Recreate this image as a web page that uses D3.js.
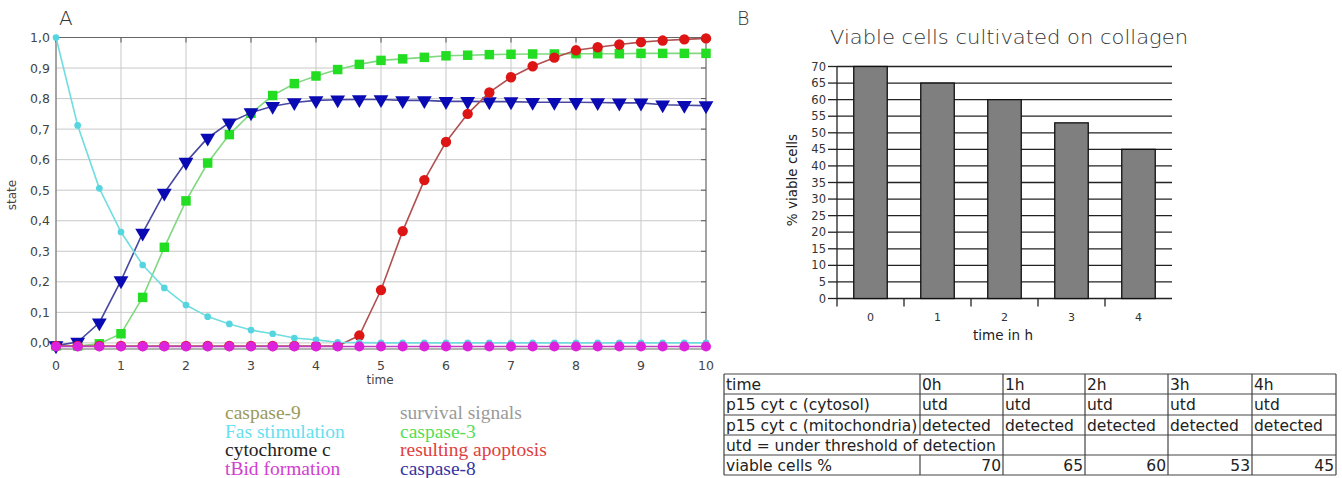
<!DOCTYPE html>
<html><head><meta charset="utf-8">
<script src="https://cdn.jsdelivr.net/npm/d3@7"></script>
<style>body{margin:0;background:#fff;} svg{display:block;}</style>
</head><body>
<svg id="c" width="1342" height="478"></svg>
<script>
// ---------- Panel A data ----------
const time = [0,1/3,2/3,1,4/3,5/3,2,7/3,8/3,3,10/3,11/3,4,13/3,14/3,5,16/3,17/3,6,19/3,20/3,7,22/3,23/3,8,25/3,26/3,9,28/3,29/3,10];
const fasStimulation = [1.0,0.712,0.506,0.363,0.255,0.18,0.124,0.086,0.062,0.042,0.03,0.016,0.01,0.002,0.001,0,0,0,0,0,0,0,0,0,0,0,0,0,0,0,0];
const caspase8 = [-0.009,0.003,0.066,0.204,0.36,0.491,0.592,0.671,0.721,0.754,0.775,0.787,0.794,0.796,0.797,0.797,0.794,0.794,0.791,0.791,0.79,0.79,0.788,0.788,0.788,0.787,0.786,0.786,0.78,0.778,0.777];
const caspase3 = [-0.01,-0.01,-0.003,0.03,0.149,0.313,0.465,0.589,0.682,0.752,0.81,0.849,0.874,0.895,0.912,0.925,0.93,0.935,0.94,0.942,0.944,0.945,0.946,0.946,0.947,0.947,0.947,0.948,0.948,0.948,0.948];
const apoptosis = [-0.01,-0.01,-0.01,-0.01,-0.01,-0.01,-0.01,-0.01,-0.01,-0.01,-0.01,-0.01,-0.01,-0.01,0.024,0.173,0.366,0.533,0.658,0.75,0.82,0.87,0.906,0.934,0.958,0.968,0.977,0.985,0.99,0.994,0.997];
const tBid = [-0.012,-0.012,-0.012,-0.012,-0.012,-0.012,-0.012,-0.012,-0.012,-0.012,-0.012,-0.012,-0.012,-0.012,-0.012,-0.012,-0.012,-0.012,-0.012,-0.012,-0.012,-0.012,-0.012,-0.012,-0.012,-0.012,-0.012,-0.012,-0.012,-0.012,-0.012];
const xTicks = [0,1,2,3,4,5,6,7,8,9,10];
const yTicks = [0,0.1,0.2,0.3,0.4,0.5,0.6,0.7,0.8,0.9,1.0];
const legendCol1 = ["caspase-9","Fas stimulation","cytochrome c","tBid formation"];
const legendCol2 = ["survival signals","caspase-3","resulting apoptosis","caspase-8"];

// ---------- Panel B data ----------
const hours = ["0","1","2","3","4"];
const viable = [70,65,60,53,45];
const barTicks = [0,5,10,15,20,25,30,35,40,45,50,55,60,65,70];
const tableHeader = ["time","0h","1h","2h","3h","4h"];
const tableCytosol = ["p15 cyt c (cytosol)","utd","utd","utd","utd","utd"];
const tableMito = ["p15 cyt c (mitochondria)","detected","detected","detected","detected","detected"];
const tableNote = "utd = under threshold of detection";
const tableViableLabel = "viable cells %";

const svg = d3.select("#c");

// ================= Panel A =================
const x = d3.scaleLinear().domain([0,10]).range([56,706]);
const y = d3.scaleLinear().domain([-0.02,1.0]).range([349,37.5]);
const A = svg.append("g");

A.append("text").attr("x",59).attr("y",25).attr("font-family","DejaVu Sans").attr("font-weight","300")
 .attr("font-size",20).attr("fill","#333").text("A");

// grid
A.selectAll(".gx").data(xTicks).join("line").attr("x1",d=>x(d)).attr("x2",d=>x(d))
 .attr("y1",y.range()[1]).attr("y2",y.range()[0]).attr("stroke","#c8c8c8").attr("stroke-width",1);
A.selectAll(".gy").data(yTicks).join("line").attr("x1",x.range()[0]).attr("x2",x.range()[1])
 .attr("y1",d=>y(d)).attr("y2",d=>y(d)).attr("stroke","#c8c8c8").attr("stroke-width",1);
// frame
A.append("rect").attr("x",x.range()[0]).attr("y",y.range()[1]).attr("width",x.range()[1]-x.range()[0])
 .attr("height",y.range()[0]-y.range()[1]).attr("fill","none").attr("stroke","#666").attr("stroke-width",1);
// inner ticks top & right
A.selectAll(".tt").data(xTicks).join("line").attr("x1",d=>x(d)).attr("x2",d=>x(d))
 .attr("y1",y.range()[1]).attr("y2",y.range()[1]+5).attr("stroke","#555");
A.selectAll(".tr").data(yTicks).join("line").attr("x1",x.range()[1]-5).attr("x2",x.range()[1])
 .attr("y1",d=>y(d)).attr("y2",d=>y(d)).attr("stroke","#555");

// tick labels
A.selectAll(".ylab").data(yTicks).join("text").attr("x",50).attr("y",d=>y(d)+4.5)
 .attr("text-anchor","end").attr("font-family","DejaVu Sans").attr("font-size",12.5).attr("fill","#444")
 .text(d=>d3.format(".1f")(d).replace(".",","));
A.selectAll(".xlab").data(xTicks).join("text").attr("x",d=>x(d)).attr("y",370)
 .attr("text-anchor","middle").attr("font-family","DejaVu Sans").attr("font-size",12.5).attr("fill","#444")
 .text(d=>d);
A.append("text").attr("x",380).attr("y",384).attr("text-anchor","middle").attr("font-family","DejaVu Sans")
 .attr("font-size",12).attr("fill","#444").text("time");
A.append("text").attr("transform","translate(16,195) rotate(-90)").attr("text-anchor","middle")
 .attr("font-family","DejaVu Sans").attr("font-size",12).attr("fill","#444").text("state");

const line = d3.line().x((d,i)=>x(time[i])).y(d=>y(d));
function series(vals, lineColor, markColor, shape, size){
  const g = A.append("g");
  g.append("path").datum(vals).attr("d",line).attr("fill","none").attr("stroke",lineColor).attr("stroke-width",1.6);
  const sym = d3.symbol().type(shape).size(size);
  g.selectAll("path.m").data(vals).join("path").attr("class","m")
   .attr("transform",(d,i)=>`translate(${x(time[i])},${y(d)})${shape===d3.symbolTriangle?" rotate(180)":""}`)
   .attr("d",sym).attr("fill",markColor);
}
series(caspase3, "#80d880", "#22dd22", d3.symbolSquare, 90);
series(caspase8, "#4848a0", "#0a0ab4", d3.symbolTriangle, 95);
series(apoptosis, "#b05050", "#dd1515", d3.symbolCircle, 85);
series(fasStimulation, "#70dde0", "#55d5e0", d3.symbolCircle, 35);
series(tBid, "#c040c0", "#dd22dd", d3.symbolCircle, 80);

// legend
const col1Colors = ["#9a9a5a","#66e0f0","#222222","#d040d0"];
const col2Colors = ["#9a9a9a","#55dd55","#e04040","#3535a5"];
A.selectAll(".lg1").data(legendCol1).join("text").attr("x",225).attr("y",(d,i)=>419+i*18.5)
 .attr("font-family","Liberation Serif").attr("font-size",19.5).attr("fill",(d,i)=>col1Colors[i]).text(d=>d);
A.selectAll(".lg2").data(legendCol2).join("text").attr("x",400).attr("y",(d,i)=>419+i*18.5)
 .attr("font-family","Liberation Serif").attr("font-size",19.5).attr("fill",(d,i)=>col2Colors[i]).text(d=>d);

// ================= Panel B =================
const B = svg.append("g");
B.append("text").attr("x",737).attr("y",25).attr("font-family","DejaVu Sans").attr("font-weight","300")
 .attr("font-size",19).attr("fill","#333").text("B");
B.append("text").attr("x",1009).attr("y",44).attr("text-anchor","middle").attr("font-family","DejaVu Sans")
 .attr("font-weight","300").attr("font-size",20).attr("fill","#333").attr("textLength",358).attr("lengthAdjust","spacingAndGlyphs")
 .text("Viable cells cultivated on collagen");

const bx = d3.scaleBand().domain(hours).range([837,1172]).paddingInner(0.5).paddingOuter(0.25);
const by = d3.scaleLinear().domain([0,70]).range([298.5,66.5]);
// gridlines
B.selectAll(".bg").data(barTicks).join("line").attr("x1",837).attr("x2",1172)
 .attr("y1",d=>by(d)).attr("y2",d=>by(d)).attr("stroke","#222").attr("stroke-width",1.3);
// y axis
B.append("line").attr("x1",837).attr("x2",837).attr("y1",by(0)).attr("y2",by(70)).attr("stroke","#222").attr("stroke-width",1.3);
B.selectAll(".byt").data(barTicks).join("line").attr("x1",828).attr("x2",837)
 .attr("y1",d=>by(d)).attr("y2",d=>by(d)).attr("stroke","#222").attr("stroke-width",1.3);
B.selectAll(".byl").data(barTicks).join("text").attr("x",826).attr("y",d=>by(d)+4)
 .attr("text-anchor","end").attr("font-family","DejaVu Sans").attr("font-size",11.5).attr("fill","#333").text(d=>d);
// bars
B.selectAll(".bar").data(viable).join("rect").attr("x",(d,i)=>bx(hours[i])).attr("y",d=>by(d))
 .attr("width",bx.bandwidth()).attr("height",d=>by(0)-by(d)).attr("fill","#7f7f7f").attr("stroke","#111").attr("stroke-width",1.3);
// x ticks at category boundaries
B.selectAll(".bxt").data(hours).join("line").attr("x1",d=>bx(d)-bx.step()*bx.paddingOuter()).attr("x2",d=>bx(d)-bx.step()*bx.paddingOuter())
 .attr("y1",by(0)).attr("y2",by(0)+8).attr("stroke","#222").attr("stroke-width",1.3);
B.selectAll(".bxl").data(hours).join("text").attr("x",d=>bx(d)+bx.bandwidth()/2).attr("y",321)
 .attr("text-anchor","middle").attr("font-family","DejaVu Sans").attr("font-size",11).attr("fill","#333").text(d=>d);
B.append("text").attr("x",1003).attr("y",340).attr("text-anchor","middle").attr("font-family","DejaVu Sans")
 .attr("font-size",13.5).attr("fill","#222").text("time in h");
B.append("text").attr("transform","translate(797,180) rotate(-90)").attr("text-anchor","middle")
 .attr("font-family","DejaVu Sans").attr("font-size",13.5).attr("fill","#222").text("% viable cells");

// ---------- table ----------
const colX = [724,920,1003,1085,1168,1252,1336];
const rowY = [374,394,415,435,455,475];
const T = svg.append("g").attr("font-family","DejaVu Sans").attr("font-size",15.5).attr("fill","#222");
// horizontal lines
T.selectAll(".hl").data(rowY).join("line").attr("x1",colX[0]).attr("x2",colX[6])
 .attr("y1",d=>d).attr("y2",d=>d).attr("stroke","#444").attr("stroke-width",1.2);
// vertical lines
const vsegs = [];
colX.forEach((cx,ci)=>{
  rowY.slice(0,-1).forEach((ry,ri)=>{
    if(ri===3 && ci===1) return; // merged note cell
    vsegs.push([cx,ry,rowY[ri+1]]);
  });
});
T.selectAll(".vl").data(vsegs).join("line").attr("x1",d=>d[0]).attr("x2",d=>d[0])
 .attr("y1",d=>d[1]).attr("y2",d=>d[2]).attr("stroke","#444").attr("stroke-width",1.2);
[tableHeader,tableCytosol,tableMito].forEach((row,ri)=>{
  T.selectAll(".r"+ri).data(row).join("text").attr("x",(d,i)=>colX[i]+2).attr("y",rowY[ri]+15.5).text(d=>d);
});
T.append("text").attr("x",colX[0]+2).attr("y",rowY[3]+15.5).text(tableNote);
T.append("text").attr("x",colX[0]+2).attr("y",rowY[4]+15.5).text(tableViableLabel);
T.selectAll(".rv").data(viable).join("text").attr("x",(d,i)=>colX[i+2]-2).attr("y",rowY[4]+15.5)
 .attr("text-anchor","end").text(d=>d);
</script>
</body></html>
